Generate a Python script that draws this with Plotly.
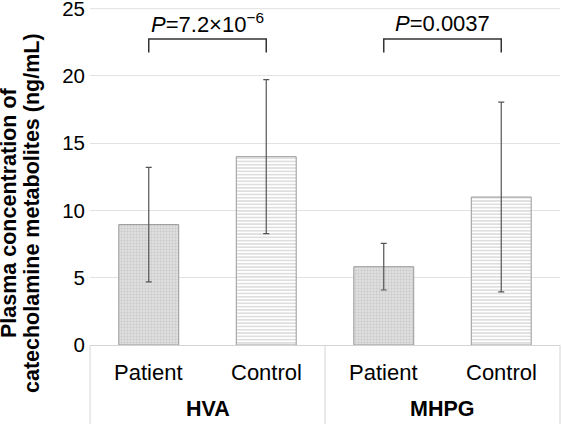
import plotly.graph_objects as go

# ---- data ----
groups = ["HVA", "MHPG"]
subgroups = ["Patient", "Control"]
patient_means = [8.95, 5.82]
patient_sd = [4.26, 1.73]
control_means = [14.0, 11.0]
control_sd = [5.72, 7.05]
p_labels = ["<i>P</i>=7.2×10<sup>−6</sup>", "<i>P</i>=0.0037"]
y_ticks = [0, 5, 10, 15, 20, 25]
y_title_lines = ["Plasma concentration of", "catecholamine metabolites (ng/mL)"]

FONT = "Liberation Sans, Arial, sans-serif"
n_sub = len(subgroups)
patient_x = [g * n_sub + 0 for g in range(len(groups))]
control_x = [g * n_sub + 1 for g in range(len(groups))]
n_cat = len(groups) * n_sub

fig = go.Figure()
fig.add_trace(go.Bar(
    x=patient_x, y=patient_means, width=0.51, name=subgroups[0],
    marker=dict(color="#dedede", line=dict(color="#9a9a9a", width=1),
                pattern=dict(shape=".", fgcolor="#b5b5b5", bgcolor="#e4e4e4", size=3, solidity=0.5)),
    error_y=dict(type="data", array=patient_sd, color="#555555", thickness=1.2, width=3),
))
fig.add_trace(go.Bar(
    x=control_x, y=control_means, width=0.51, name=subgroups[1],
    marker=dict(color="white", line=dict(color="#9a9a9a", width=1),
                pattern=dict(shape="-", fgcolor="#a0a0a0", bgcolor="white", size=3.3, solidity=0.35)),
    error_y=dict(type="data", array=control_sd, color="#555555", thickness=1.2, width=3),
))

shapes = []
annotations = []
# top gridline (at the range edge)
shapes.append(dict(type="line", xref="paper", yref="y", x0=0, x1=1, y0=max(y_ticks), y1=max(y_ticks),
                   line=dict(color="#e2e2e2", width=1), layer="below"))
# bottom category table
bottom = -79 / 337
for i in range(len(groups) + 1):
    xp = i / len(groups)
    shapes.append(dict(type="line", xref="paper", yref="paper", x0=xp, x1=xp, y0=0, y1=bottom,
                       line=dict(color="#d4d4d4", width=1)))
for gi, g in enumerate(groups):
    annotations.append(dict(text=f"<b>{g}</b>", xref="x", yref="paper",
                            x=gi * n_sub + (n_sub - 1) / 2, y=-64 / 337,
                            showarrow=False, xanchor="center", yanchor="middle",
                            font=dict(family=FONT, size=21.5, color="black")))
    for si, s in enumerate(subgroups):
        annotations.append(dict(text=s, xref="x", yref="paper",
                                x=gi * n_sub + si, y=-27 / 337,
                                showarrow=False, xanchor="center", yanchor="middle",
                                font=dict(family=FONT, size=22, color="black")))
    # significance bracket
    x0, x1 = gi * n_sub, gi * n_sub + 1
    shapes.append(dict(type="path", xref="x", yref="y",
                       path=f"M {x0},21.75 L {x0},22.75 L {x1},22.75 L {x1},21.75",
                       line=dict(color="#333333", width=1.5)))
    annotations.append(dict(text=p_labels[gi], xref="x", yref="y",
                            x=(x0 + x1) / 2, y=23.9, showarrow=False,
                            xanchor="center", yanchor="middle",
                            font=dict(family=FONT, size=22, color="black")))

# y-axis title (two lines)
for li, (line, xpx) in enumerate(zip(y_title_lines, [9, 32])):
    annotations.append(dict(text=f"<b>{line}</b>", xref="paper", yref="paper",
                            x=(xpx - 90) / 470, y=(345 - 213) / 337, textangle=-90,
                            showarrow=False, xanchor="center", yanchor="middle",
                            font=dict(family=FONT, size=21.5, color="black")))

fig.update_layout(
    width=562, height=424,
    margin=dict(l=90, r=2, t=8, b=79, autoexpand=False),
    paper_bgcolor="white", plot_bgcolor="white",
    showlegend=False, barmode="overlay",
    shapes=shapes, annotations=annotations,
    font=dict(family=FONT, color="black"),
)
fig.update_xaxes(range=[-0.5, n_cat - 0.5], showticklabels=False, showgrid=False, automargin=False,
                 zeroline=False, showline=True, linecolor="#d4d4d4", linewidth=1, ticks="")
fig.update_yaxes(range=[0, 25.05], tickvals=y_ticks, showgrid=True, gridcolor="#e2e2e2", gridwidth=1,
                 zeroline=False, showline=False, ticks="", ticklabelstandoff=4, automargin=False,
                 ticklabeloverflow="allow",
                 tickfont=dict(family=FONT, size=20.5, color="black"))

fig.write_html("out.html", config={"displayModeBar": False},
               post_script="document.body.style.margin='0';document.body.style.padding='0';")
